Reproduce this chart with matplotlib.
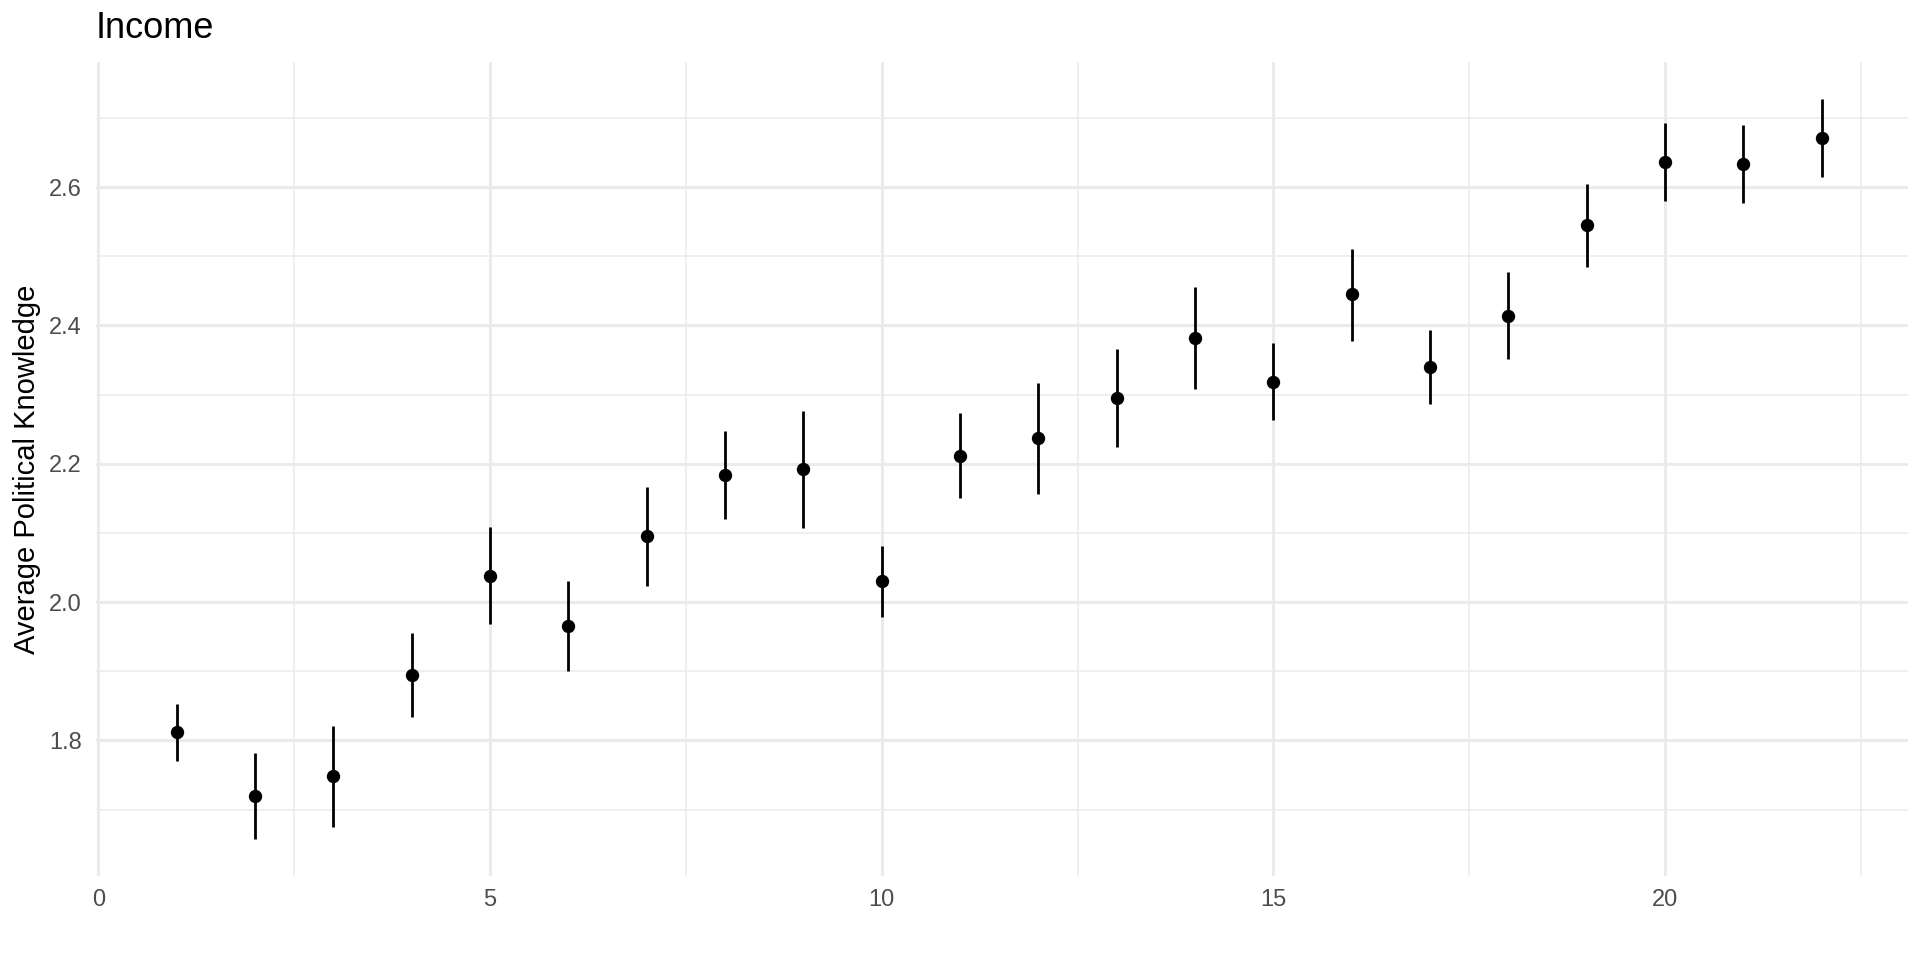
import matplotlib
matplotlib.use("Agg")
import matplotlib.pyplot as plt
from matplotlib.ticker import MultipleLocator

income = list(range(1, 23))
mean_pk = [1.812, 1.719, 1.748, 1.894, 2.038, 1.966, 2.095, 2.184, 2.192, 2.030, 2.212,
           2.237, 2.295, 2.382, 2.319, 2.445, 2.340, 2.414, 2.545, 2.637, 2.634, 2.671]
upper = [1.852, 1.782, 1.821, 1.955, 2.109, 2.031, 2.166, 2.248, 2.276, 2.081, 2.274,
         2.317, 2.366, 2.455, 2.375, 2.511, 2.394, 2.477, 2.605, 2.693, 2.690, 2.727]
lower = [1.771, 1.657, 1.675, 1.834, 1.968, 1.901, 2.023, 2.120, 2.107, 1.978, 2.151,
         2.156, 2.225, 2.308, 2.263, 2.377, 2.287, 2.351, 2.484, 2.580, 2.577, 2.614]
x_ticks = [0, 5, 10, 15, 20]
y_ticks = [1.8, 2.0, 2.2, 2.4, 2.6]

plt.rcParams['font.family'] = ['Liberation Sans', 'DejaVu Sans']
fig = plt.figure(figsize=(19.2, 9.6), dpi=100)
ax = fig.add_axes([96/1920, 1 - 876/960, (1908-96)/1920, (876-62)/960])

ax.vlines(income, lower, upper, color='black', linewidth=2.0, zorder=3)
ax.plot(income, mean_pk, 'o', color='black', markersize=8.6, zorder=4)

ax.set_xlim(-0.03, 23.1)
ax.set_ylim(1.604, 2.781)
ax.set_xticks(x_ticks)
ax.set_yticks(y_ticks)
ax.set_yticklabels([f"{v:.1f}" for v in y_ticks])
ax.xaxis.set_minor_locator(MultipleLocator(2.5))
ax.yaxis.set_minor_locator(MultipleLocator(0.1))

ax.grid(which='major', color='#EBEBEB', linewidth=2.2)
ax.grid(which='minor', color='#EBEBEB', linewidth=1.1)
ax.set_axisbelow(True)
for s in ax.spines.values():
    s.set_visible(False)
ax.tick_params(which='both', length=0)
ax.tick_params(axis='both', labelsize=17, labelcolor='#4D4D4D')
ax.tick_params(axis='y', pad=10)
ax.tick_params(axis='x', pad=9)
narrow = ['Liberation Sans Narrow', 'Liberation Sans', 'DejaVu Sans']
for lbl in ax.get_xticklabels() + ax.get_yticklabels():
    lbl.set_family(narrow)

ax.set_ylabel("Average Political Knowledge", fontsize=21, labelpad=6)
fig.text(96/1920, 1 - 28/960, "Income", fontsize=26, ha='left', va='center')

fig.savefig("out.png", dpi=100, facecolor='white')
